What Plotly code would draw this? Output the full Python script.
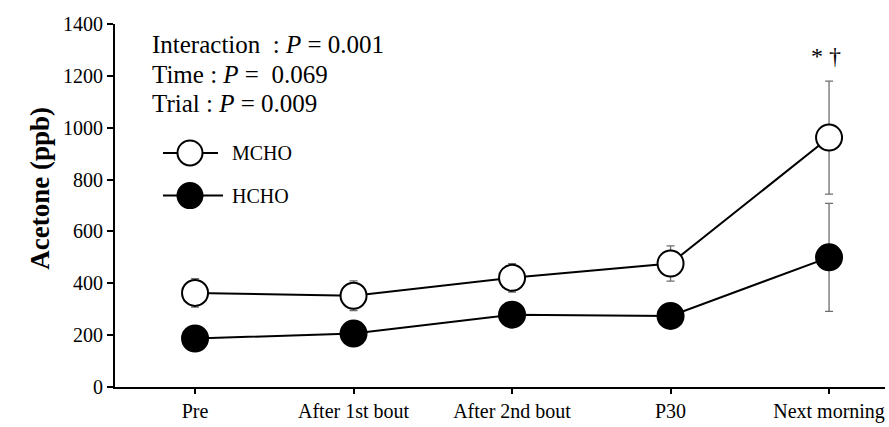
import plotly.graph_objects as go

categories = ["Pre", "After 1st bout", "After 2nd bout", "P30", "Next morning"]
mcho = [363, 352, 421, 476, 962]
mcho_err = [55, 57, 55, 68, 218]
hcho = [187, 206, 279, 274, 500]
hcho_err = [20, 20, 20, 20, 208]
y_ticks = [0, 200, 400, 600, 800, 1000, 1200, 1400]

FONT = "Liberation Serif"
xidx = list(range(len(categories)))

fig = go.Figure()
fig.add_trace(go.Scatter(
    x=xidx, y=mcho, mode="lines+markers", name="MCHO",
    line=dict(color="black", width=2),
    marker=dict(size=26, color="white", line=dict(color="black", width=2)),
    error_y=dict(type="data", array=mcho_err, color="#6e6e6e", thickness=1.3, width=4),
    showlegend=False,
))
fig.add_trace(go.Scatter(
    x=xidx, y=hcho, mode="lines+markers", name="HCHO",
    line=dict(color="black", width=2),
    marker=dict(size=26, color="black", line=dict(color="black", width=2)),
    error_y=dict(type="data", array=hcho_err, color="#6e6e6e", thickness=1.3, width=4),
    showlegend=False,
))

W, H = 889, 427
L, R, T, B = 115, 4, 24, 37
pw, ph = W - L - R, H - T - B

def px(x):
    return (x - L) / pw

def py(y):
    return (H - B - y) / ph

shapes = []
annotations = []
# legend samples
for name, fill, ycen, xend in [("MCHO", "white", 154, 218), ("HCHO", "black", 197, 223)]:
    shapes.append(dict(type="line", xref="paper", yref="paper",
                       x0=px(163), x1=px(xend), y0=py(ycen), y1=py(ycen),
                       line=dict(color="black", width=2)))
    shapes.append(dict(type="circle", xref="paper", yref="paper",
                       xsizemode="pixel", ysizemode="pixel",
                       xanchor=px(190), yanchor=py(ycen),
                       x0=-12.5, x1=12.5, y0=-12.5, y1=12.5,
                       fillcolor=fill, line=dict(color="black", width=2)))
    annotations.append(dict(xref="paper", yref="paper", x=px(230), y=py(ycen),
                            text=name, showarrow=False, xanchor="left", yanchor="middle",
                            font=dict(family=FONT, size=20, color="black")))

stats = ["Interaction  : <i>P</i> = 0.001", "Time : <i>P</i> =  0.069", "Trial : <i>P</i> = 0.009"]
for i, s in enumerate(stats):
    annotations.append(dict(xref="paper", yref="paper", x=px(150), y=py(45 + 29.5 * i),
                            text=s, showarrow=False, xanchor="left", yanchor="middle",
                            font=dict(family=FONT, size=25, color="black")))

annotations.append(dict(x=4, y=mcho[4] + mcho_err[4], xref="x", yref="y",
                        text="* †", showarrow=False, xanchor="center", yanchor="bottom",
                        xshift=-3, yshift=10,
                        font=dict(family=FONT, size=24, color="black")))

# y-axis title
annotations.append(dict(xref="paper", yref="paper", x=px(40), y=py(190),
                        text="<b>Acetone (ppb)</b>", showarrow=False, textangle=-90,
                        xanchor="center", yanchor="middle",
                        font=dict(family=FONT, size=27, color="black")))

fig.update_layout(
    width=W, height=H,
    margin=dict(l=L, r=R, t=T, b=B),
    paper_bgcolor="white", plot_bgcolor="white",
    font=dict(family=FONT, size=20, color="black"),
    shapes=shapes, annotations=annotations,
    xaxis=dict(range=[-0.505, 4.353], tickvals=xidx, ticktext=categories,
               showline=True, linecolor="black", linewidth=2, ticks="outside",
               ticklen=5, tickwidth=2, tickcolor="black", showgrid=False, zeroline=False,
               tickfont=dict(family=FONT, size=20)),
    yaxis=dict(range=[0, 1400], tickvals=y_ticks, showline=True, linecolor="black",
               linewidth=2, ticks="outside", ticklen=6, tickwidth=2, tickcolor="black",
               showgrid=False, zeroline=False,
               tickfont=dict(family=FONT, size=20)),
)

fig.write_html("out.html", config={"displayModeBar": False},
               post_script="document.body.style.margin='0';document.body.style.overflow='hidden';")
